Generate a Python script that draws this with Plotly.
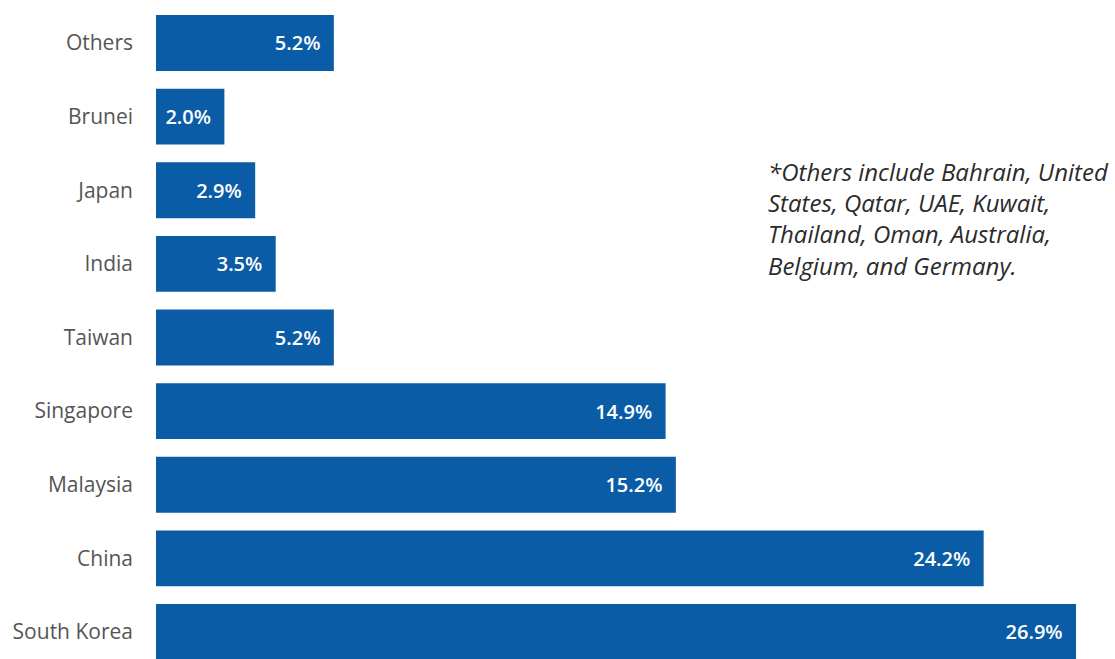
import plotly.graph_objects as go

# Data (bottom to top)
countries = ["South Korea", "China", "Malaysia", "Singapore", "Taiwan",
             "India", "Japan", "Brunei", "Others"]
shares = [26.9, 24.2, 15.2, 14.9, 5.2, 3.5, 2.9, 2.0, 5.2]

note_text = ("*Others include Bahrain, United<br>States, Qatar, UAE, Kuwait,<br>"
             "Thailand, Oman, Australia,<br>Belgium, and Germany.")

BAR = "#0B5CA7"

fig = go.Figure(go.Bar(
    x=shares,
    y=countries,
    orientation="h",
    marker=dict(color=BAR, line=dict(width=0)),
    texttemplate="%{x:.1f}%\u00a0\u00a0",
    textposition="inside",
    insidetextanchor="end",
    textfont=dict(color="white", size=20, family="Open Sans", weight=600),
    constraintext="none",
    hoverinfo="skip",
))

fig.update_layout(
    width=1115, height=659,
    margin=dict(l=156, r=0, t=0, b=0),
    paper_bgcolor="white", plot_bgcolor="white",
    bargap=0.24,
    showlegend=False,
    xaxis=dict(range=[0, 28.04], visible=False, fixedrange=True),
    yaxis=dict(
        categoryorder="array", categoryarray=countries,
        range=[-0.367, 8.584],
        showgrid=False, zeroline=False, showline=False,
        ticks="", ticklabelstandoff=22,
        tickfont=dict(family="Open Sans", size=21, color="#555555"),
    ),
    annotations=[dict(
        text=note_text, xref="paper", yref="paper",
        x=0.636, y=0.768, xanchor="left", yanchor="top",
        align="left", showarrow=False,
        font=dict(family="Open Sans", size=24, color="#2b2b2b", style="italic"),
    )],
)

fig.write_html("out.html")
